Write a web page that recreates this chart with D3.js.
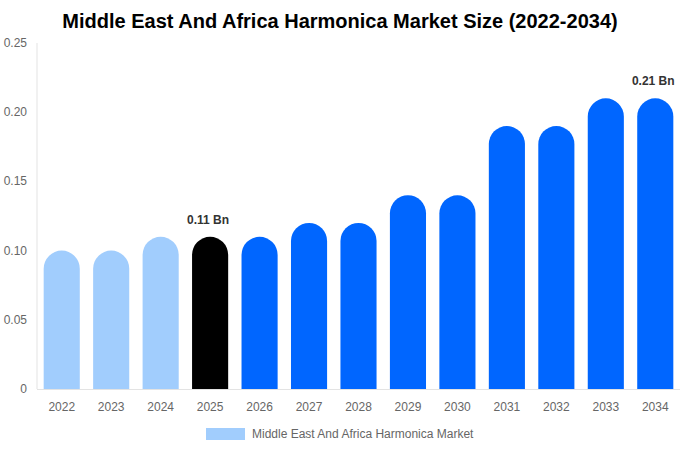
<!DOCTYPE html>
<html>
<head>
<meta charset="utf-8">
<script src="https://cdn.jsdelivr.net/npm/d3@7"></script>
<style>
  body { margin: 0; background: #fff; }
  text { font-family: "Liberation Sans", Arial, sans-serif; }
</style>
</head>
<body>
<div id="chart"></div>
<script>
var width = 680;
var height = 450;

var years = ["2022", "2023", "2024", "2025", "2026", "2027", "2028", "2029", "2030", "2031", "2032", "2033", "2034"];
var values = [0.10, 0.10, 0.11, 0.11, 0.11, 0.12, 0.12, 0.14, 0.14, 0.19, 0.19, 0.21, 0.21];
var yTicks = [0, 0.05, 0.10, 0.15, 0.20, 0.25];
var labelled = { "2025": "0.11 Bn", "2034": "0.21 Bn" };
var seriesName = "Middle East And Africa Harmonica Market";

var margin = { top: 43, right: 0, bottom: 61, left: 37 };

var svg = d3.select("#chart")
    .append("svg")
    .attr("width", width)
    .attr("height", height);

var x = d3.scaleBand().domain(years).range([margin.left, width - margin.right]).paddingInner(0.27).paddingOuter(0.135);
var y = d3.scaleLinear().domain([0, 0.25]).range([height - margin.bottom, margin.top]);

function colorFor(yr) {
    if (yr < "2025") return "#a1cdfd";
    if (yr === "2025") return "#000000";
    return "#0066ff";
}

// title
svg.append("text")
    .attr("x", width / 2)
    .attr("y", 28)
    .attr("text-anchor", "middle")
    .style("font-size", "20px")
    .style("font-weight", "bold")
    .style("fill", "#000")
    .text("Middle East And Africa Harmonica Market Size (2022-2034)");

// axes lines
svg.append("line")
    .attr("x1", margin.left).attr("x2", margin.left)
    .attr("y1", y(0.25)).attr("y2", y(0))
    .attr("stroke", "#e3e3e3");
svg.append("line")
    .attr("x1", margin.left).attr("x2", width)
    .attr("y1", y(0) + 0.5).attr("y2", y(0) + 0.5)
    .attr("stroke", "#e3e3e3");

// y tick labels
svg.append("g").selectAll("text")
    .data(yTicks)
    .enter()
    .append("text")
    .attr("x", 27)
    .attr("y", function (d) { return y(d) + 4; })
    .attr("text-anchor", "end")
    .style("font-size", "12px")
    .style("fill", "#666")
    .text(function (d) { return d === 0 ? "0" : d.toFixed(2); });

// x tick labels
svg.append("g").selectAll("text")
    .data(years)
    .enter()
    .append("text")
    .attr("x", function (d) { return x(d) + x.bandwidth() / 2; })
    .attr("y", y(0) + 22)
    .attr("text-anchor", "middle")
    .style("font-size", "12px")
    .style("fill", "#666")
    .text(function (d) { return d; });

// bars with rounded tops
function barPath(x0, w, top, bottom) {
    var r = w / 2;
    return "M" + x0 + "," + bottom +
        "L" + x0 + "," + (top + r) +
        "A" + r + "," + r + " 0 0 1 " + (x0 + w) + "," + (top + r) +
        "L" + (x0 + w) + "," + bottom + "Z";
}

svg.append("g").selectAll("path")
    .data(years)
    .enter()
    .append("path")
    .attr("d", function (d, i) {
        return barPath(x(d), x.bandwidth(), y(values[i]), y(0));
    })
    .attr("fill", function (d) { return colorFor(d); });

// value labels
svg.append("g").selectAll("text")
    .data(years.filter(function (d) { return labelled[d]; }))
    .enter()
    .append("text")
    .attr("x", function (d) { return x(d) + x.bandwidth() / 2 - 2; })
    .attr("y", function (d) { return y(values[years.indexOf(d)]) - 13; })
    .attr("text-anchor", "middle")
    .style("font-size", "12px")
    .style("font-weight", "bold")
    .style("fill", "#333")
    .text(function (d) { return labelled[d]; });

// legend
var legend = svg.append("g");
legend.append("rect")
    .attr("x", 206).attr("y", 428)
    .attr("width", 39).attr("height", 12)
    .attr("fill", "#a1cdfd");
legend.append("text")
    .attr("x", 252).attr("y", 437.5)
    .style("font-size", "12px")
    .style("fill", "#666")
    .text(seriesName);
</script>
</body>
</html>
